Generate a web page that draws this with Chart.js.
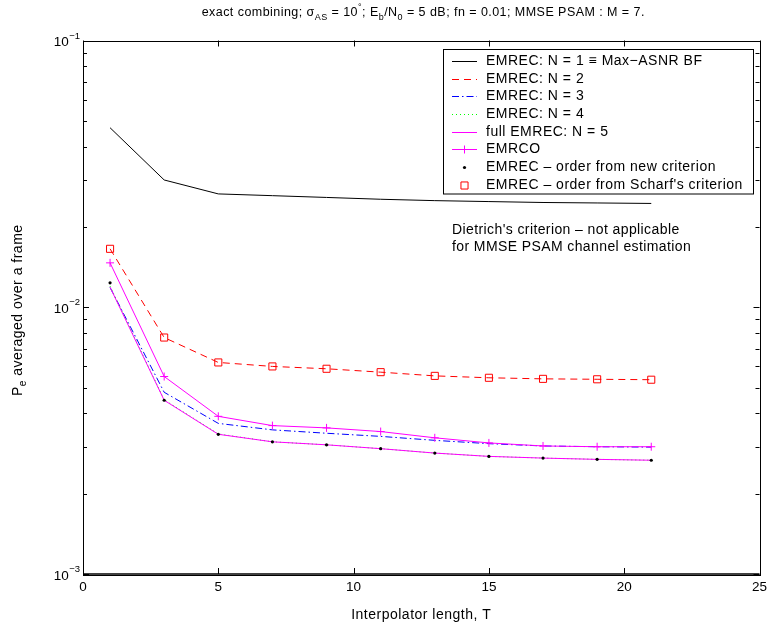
<!DOCTYPE html>
<html><head><meta charset="utf-8">
<script src="https://cdn.jsdelivr.net/npm/chart.js@4/dist/chart.umd.min.js"></script>
<style>html,body{margin:0;padding:0;background:#fff}canvas{display:block}</style>
</head><body>
<canvas id="c" width="768" height="628"></canvas>
<script>
// ---- data ----
const T = [1, 3, 5, 7, 9, 11, 13, 15, 17, 19, 21];
const pe_N1     = [0.0471, 0.0300, 0.0266, 0.0262, 0.0258, 0.0254, 0.0251, 0.0249, 0.0247, 0.0246, 0.0245];
const pe_N2     = [0.01656, 0.0077, 0.00621, 0.00600, 0.00588, 0.00571, 0.00553, 0.00544, 0.00539, 0.00537, 0.00535];
const pe_N3     = [0.01186, 0.00480, 0.00367, 0.00347, 0.00337, 0.00328, 0.00317, 0.00308, 0.00302, 0.00300, 0.00299];
const pe_N4     = [0.01200, 0.00450, 0.00335, 0.00313, 0.00305, 0.00295, 0.00284, 0.00276, 0.00272, 0.00269, 0.00267];
const pe_N5     = [0.01189, 0.00448, 0.00334, 0.00313, 0.00305, 0.00295, 0.00284, 0.00276, 0.00272, 0.00269, 0.00267];
const pe_EMRCO  = [0.01467, 0.00550, 0.00390, 0.00360, 0.00353, 0.00342, 0.00324, 0.00310, 0.00302, 0.00300, 0.00300];
const pe_newCrit= [0.01235, 0.00448, 0.00334, 0.00313, 0.00305, 0.00295, 0.00284, 0.00276, 0.00272, 0.00269, 0.00267];
const pe_scharf = [0.01656, 0.0077, 0.00621, 0.00600, 0.00588, 0.00571, 0.00553, 0.00544, 0.00539, 0.00537, 0.00535];
const seriesLabels = [
  'EMREC: N = 1 \u2261 Max\u2212ASNR BF',
  'EMREC: N = 2',
  'EMREC: N = 3',
  'EMREC: N = 4',
  'full EMREC: N = 5',
  'EMRCO',
  'EMREC \u2013 order from new criterion',
  'EMREC \u2013 order from Scharf\'s criterion'
];
const xTickLabels = [0, 5, 10, 15, 20, 25];
const yMajorTicks = [0.001, 0.01, 0.1];
const yTickExponents = ['\u22123', '\u22122', '\u22121'];
const annotationLines = ['Dietrich\'s criterion \u2013 not applicable', 'for MMSE PSAM channel estimation'];
const xTitle = 'Interpolator length, T';

// ---- chart ----
const FONT = '"Liberation Sans", Arial, Helvetica, sans-serif';
const pts = arr => T.map((t, i) => ({x: t, y: arr[i]}));

const datasets = [
  {label: seriesLabels[0], data: pts(pe_N1), borderColor: '#000000', borderWidth: 1, pointRadius: 0},
  {label: seriesLabels[1], data: pts(pe_N2), borderColor: '#ff0000', borderWidth: 1, borderDash: [7, 5], pointRadius: 0},
  {label: seriesLabels[2], data: pts(pe_N3), borderColor: '#0000ff', borderWidth: 1, borderDash: [7, 3, 1.5, 3], pointRadius: 0},
  {label: seriesLabels[3], data: pts(pe_N4), borderColor: '#00ff00', borderWidth: 1, borderDash: [1, 3], pointRadius: 0},
  {label: seriesLabels[4], data: pts(pe_N5), borderColor: '#ff00ff', borderWidth: 1, pointRadius: 0},
  {label: seriesLabels[5], data: pts(pe_EMRCO), borderColor: '#ff00ff', borderWidth: 1, pointStyle: 'cross', pointRadius: 4, pointBorderColor: '#ff00ff', pointBorderWidth: 1},
  {label: seriesLabels[6], data: pts(pe_newCrit), showLine: false, pointStyle: 'circle', pointRadius: 1.6, pointBackgroundColor: '#000', pointBorderColor: '#000', pointBorderWidth: 0},
  {label: seriesLabels[7], data: pts(pe_scharf), showLine: false, pointStyle: 'rect', pointRadius: 5, pointBackgroundColor: 'rgba(0,0,0,0)', pointBorderColor: '#ff0000', pointBorderWidth: 1}
];
datasets.forEach((d, i) => { d.order = 10 - i; d.tension = 0; d.fill = false; d.backgroundColor = d.backgroundColor || 'rgba(0,0,0,0)'; });

function setFont(ctx, size, spacing) {
  ctx.font = size + 'px ' + FONT;
  ctx.letterSpacing = (spacing || 0) + 'px';
}

function drawRich(ctx, segs, x, y, size, align, spacing) {
  let w = 0;
  const parts = segs.map(s => {
    const fs = s.s ? size * 0.72 : size;
    setFont(ctx, fs, spacing);
    const m = ctx.measureText(s.t).width;
    w += m;
    return {t: s.t, s: s.s, fs, m};
  });
  let cx = align === 'center' ? x - w / 2 : (align === 'right' ? x - w : x);
  ctx.textAlign = 'left';
  ctx.textBaseline = 'middle';
  parts.forEach(p => {
    setFont(ctx, p.fs, spacing);
    let dy = 0;
    if (p.s === 'sub') dy = size * 0.38;
    if (p.s === 'sup') dy = -size * 0.42;
    ctx.fillText(p.t, cx, y + dy);
    cx += p.m;
  });
  setFont(ctx, size, 0);
}

function legendSample(ctx, ds, x0, x1, y) {
  const xm = (x0 + x1) / 2;
  ctx.save();
  if (ds.showLine !== false) {
    ctx.strokeStyle = ds.borderColor; ctx.lineWidth = ds.borderWidth;
    ctx.setLineDash(ds.borderDash || []);
    ctx.beginPath(); ctx.moveTo(x0, y); ctx.lineTo(x1, y); ctx.stroke();
    ctx.setLineDash([]);
  }
  if (ds.pointRadius > 0) {
    ctx.strokeStyle = ds.pointBorderColor || ds.borderColor;
    ctx.lineWidth = ds.pointBorderWidth || 1;
    ctx.beginPath();
    if (ds.pointStyle === 'circle') { ctx.fillStyle = ds.pointBackgroundColor; ctx.arc(xm, y, ds.pointRadius, 0, Math.PI * 2); ctx.fill(); }
    else if (ds.pointStyle === 'rect') { const s = ds.pointRadius / Math.SQRT2; ctx.rect(xm - s, y - s, 2 * s, 2 * s); ctx.stroke(); }
    else if (ds.pointStyle === 'cross') { const r = ds.pointRadius; ctx.moveTo(xm - r, y); ctx.lineTo(xm + r, y); ctx.moveTo(xm, y - r); ctx.lineTo(xm, y + r); ctx.stroke(); }
  }
  ctx.restore();
}

const framePlugin = {
  id: 'frame',
  beforeDraw(chart) {
    const ctx = chart.ctx;
    ctx.save(); ctx.fillStyle = '#fff'; ctx.fillRect(0, 0, chart.width, chart.height); ctx.restore();
  },
  afterDraw(chart) {
    const ctx = chart.ctx, a = chart.chartArea;
    const xs = chart.scales.x, ys = chart.scales.y;
    ctx.save();
    ctx.fillStyle = '#000'; ctx.strokeStyle = '#000';
    // box
    ctx.lineWidth = 1;
    ctx.strokeRect(Math.round(a.left) + 0.5, Math.round(a.top) + 0.5, Math.round(a.right - a.left), Math.round(a.bottom - a.top));
    ctx.lineWidth = 1.5;
    ctx.beginPath(); ctx.moveTo(a.left, a.bottom); ctx.lineTo(a.right, a.bottom); ctx.stroke();
    ctx.lineWidth = 1;
    // x ticks
    ctx.beginPath();
    xTickLabels.forEach(v => {
      const px = Math.round(xs.getPixelForValue(v)) + 0.5;
      ctx.moveTo(px, a.bottom); ctx.lineTo(px, a.bottom - 6);
      ctx.moveTo(px, a.top); ctx.lineTo(px, a.top + 6);
    });
    // y ticks (major + minor)
    for (let e = -3; e <= -1; e++) {
      for (let k = 1; k <= 9; k++) {
        const v = k * Math.pow(10, e);
        if (v > 0.1 + 1e-12) continue;
        const py = Math.round(ys.getPixelForValue(v)) + 0.5;
        const len = k === 1 ? 6 : 4;
        ctx.moveTo(a.left, py); ctx.lineTo(a.left + len, py);
        ctx.moveTo(a.right, py); ctx.lineTo(a.right - len, py);
      }
    }
    ctx.stroke();
    // x tick labels
    setFont(ctx, 13.5, 0); ctx.textAlign = 'center'; ctx.textBaseline = 'middle';
    xTickLabels.forEach(v => ctx.fillText(String(v), xs.getPixelForValue(v), a.bottom + 13));
    // y tick labels
    yMajorTicks.forEach((v, i) => {
      const py = ys.getPixelForValue(v);
      setFont(ctx, 9.5, 0); ctx.textAlign = 'right'; ctx.textBaseline = 'middle';
      const ew = ctx.measureText(yTickExponents[i]).width;
      ctx.fillText(yTickExponents[i], 80, py - 4.5);
      setFont(ctx, 13.5, 0);
      ctx.fillText('10', 80 - ew - 0.5, py + 2);
    });
    // x title
    setFont(ctx, 14, 0.5); ctx.textAlign = 'center';
    ctx.fillText(xTitle, (a.left + a.right) / 2, 615);
    // y title
    ctx.save();
    ctx.translate(18, (a.top + a.bottom) / 2 + 3);
    ctx.rotate(-Math.PI / 2);
    drawRich(ctx, [{t: 'P'}, {t: 'e', s: 'sub'}, {t: ' averaged over a frame'}], 0, 0, 14, 'center', 0.5);
    ctx.restore();
    // title
    drawRich(ctx, [
      {t: 'exact combining; \u03c3'}, {t: 'AS', s: 'sub'}, {t: ' = 10'}, {t: '\u00b0', s: 'sup'},
      {t: '; E'}, {t: 'b', s: 'sub'}, {t: '/N'}, {t: '0', s: 'sub'},
      {t: ' = 5 dB; fn = 0.01; MMSE PSAM : M = 7.'}
    ], (a.left + a.right) / 2 + 2, 13, 12.5, 'center', 0.45);
    // annotation
    setFont(ctx, 14, 0.4); ctx.textAlign = 'left'; ctx.textBaseline = 'middle';
    ctx.fillText(annotationLines[0], 452, 230);
    ctx.fillText(annotationLines[1], 452, 247);
    // legend
    const lx = 443.5, ly = 49.5, lw = 310, lh = 144.5;
    ctx.fillStyle = '#fff'; ctx.fillRect(lx, ly, lw, lh);
    ctx.strokeStyle = '#000'; ctx.lineWidth = 1; ctx.strokeRect(lx, ly, lw, lh);
    chart.data.datasets.forEach((ds, i) => {
      const y = Math.round(61 + i * 17.67) + 0.5;
      legendSample(ctx, ds, 452, 477, y);
      ctx.fillStyle = '#000'; setFont(ctx, 14, 0.5); ctx.textAlign = 'left'; ctx.textBaseline = 'middle';
      ctx.fillText(ds.label, 486, y);
    });
    setFont(ctx, 12, 0);
    ctx.restore();
  }
};

new Chart(document.getElementById('c').getContext('2d'), {
  type: 'line',
  data: {datasets},
  options: {
    responsive: false, animation: false, devicePixelRatio: 1,
    layout: {padding: {left: 0, top: 40.5, right: 8.5, bottom: 0}},
    plugins: {legend: {display: false}, title: {display: false}, tooltip: {enabled: false}},
    scales: {
      x: {type: 'linear', min: 0, max: 25, grid: {display: false}, border: {display: false}, ticks: {display: false},
          afterFit(s) { s.height = 54; }},
      y: {type: 'logarithmic', min: 0.001, max: 0.1, grid: {display: false}, border: {display: false}, ticks: {display: false},
          afterFit(s) { s.width = 83; }}
    }
  },
  plugins: [framePlugin]
});
</script></body></html>
